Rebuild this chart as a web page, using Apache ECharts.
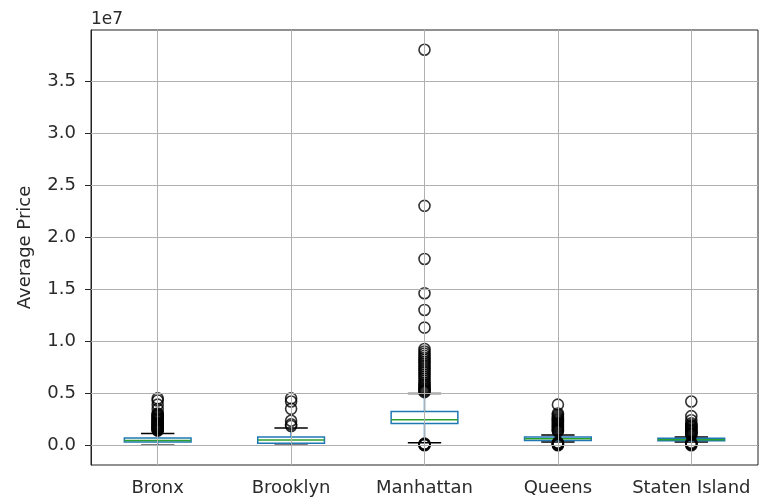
<!DOCTYPE html>
<html>
<head>
<meta charset="utf-8">
<script src="https://cdn.jsdelivr.net/npm/echarts@6/dist/echarts.min.js"></script>
<style>
html,body{margin:0;padding:0;background:#fff;}
#chart{width:760px;height:500px;}
</style>
</head>
<body>
<div id="chart"></div>
<script>
// ---- data (Average Price, dollars) ----
const categories = ['Bronx', 'Brooklyn', 'Manhattan', 'Queens', 'Staten Island'];
const whiskerLow  = [0,      0,      2.5e5,  3.0e5,  3.0e5];
const q1          = [3.0e5,  2.0e5,  2.08e6, 4.5e5,  4.2e5];
const median      = [4.5e5,  5.0e5,  2.46e6, 6.2e5,  5.3e5];
const q3          = [7.0e5,  8.0e5,  3.23e6, 8.0e5,  6.6e5];
const whiskerHigh = [1.12e6, 1.65e6, 4.98e6, 9.8e5,  8.0e5];

const bronxOutliers = [1.40e6,1.46e6,1.52e6,1.57e6,1.63e6,1.70e6,1.76e6,1.81e6,1.88e6,1.95e6,2.02e6,2.08e6,2.15e6,2.21e6,2.30e6,2.38e6,2.45e6,2.53e6,2.62e6,2.70e6,2.80e6,2.88e6,2.97e6,3.05e6,3.45e6,3.90e6,4.30e6,4.50e6];
const brooklynOutliers = [1.85e6,2.00e6,2.35e6,3.50e6,4.20e6,4.50e6];
const manhattanOutliers = [0,5e4,1.0e5,1.5e5,5.10e6,5.20e6,5.30e6,5.40e6,5.55e6,5.70e6,5.85e6,6.00e6,6.20e6,6.40e6,6.60e6,6.80e6,7.00e6,7.20e6,7.40e6,7.60e6,7.80e6,8.00e6,8.20e6,8.40e6,8.60e6,8.80e6,9.00e6,9.25e6,1.13e7,1.30e7,1.46e7,1.79e7,2.30e7,3.80e7];
const queensOutliers = [0,5e4,1.0e5,1.5e5,2.0e5,2.5e5,1.35e6,1.42e6,1.50e6,1.60e6,1.70e6,1.80e6,1.90e6,2.00e6,2.10e6,2.20e6,2.30e6,2.40e6,2.50e6,2.60e6,2.75e6,2.90e6,3.05e6,3.90e6];
const statenOutliers = [0,6e4,1.2e5,1.8e5,2.4e5,1.00e6,1.08e6,1.15e6,1.22e6,1.30e6,1.38e6,1.45e6,1.55e6,1.65e6,1.75e6,1.85e6,1.95e6,2.10e6,2.40e6,2.80e6,4.20e6];
const outlierGroups = [bronxOutliers, brooklynOutliers, manhattanOutliers, queensOutliers, statenOutliers];

const yTickValues = [0, 5e6, 1.0e7, 1.5e7, 2.0e7, 2.5e7, 3.0e7, 3.5e7];
const yTickLabels = ['0.0', '0.5', '1.0', '1.5', '2.0', '2.5', '3.0', '3.5'];
const yOffsetText = '1e7';
const yLabel = 'Average Price';

// ---- build ----
const boxData = categories.map((c, i) => [i, whiskerLow[i], q1[i], median[i], q3[i], whiskerHigh[i]]);
const outlierData = [];
outlierGroups.forEach((arr, i) => arr.forEach(v => outlierData.push([i, v])));

const FONT = 'DejaVu Sans';
const FS = 18;
const TXT = '#2a2a2a';
const BLUE = '#1f77b4', GREEN = '#2ca02c';

const chart = echarts.init(document.getElementById('chart'), null, {renderer: 'canvas'});
chart.setOption({
  animation: false,
  backgroundColor: '#fff',
  grid: {left: 91, right: 2, top: 30, bottom: 35, show: true, borderColor: '#222', borderWidth: 1, backgroundColor: 'transparent'},
  graphic: [{
    type: 'text', left: 91, top: 11,
    style: {text: yOffsetText, font: '17px "DejaVu Sans"', fill: TXT}
  }],
  xAxis: {
    type: 'category', data: categories, boundaryGap: true,
    axisLine: {show: true, lineStyle: {color: '#222', width: 1}},
    axisTick: {show: true, alignWithLabel: true, length: 6, lineStyle: {color: '#222'}},
    axisLabel: {color: TXT, fontFamily: FONT, fontSize: FS, margin: 14, interval: 0},
    splitLine: {show: false}
  },
  yAxis: {
    type: 'value', min: -1.9e6, max: 3.99e7,
    name: yLabel, nameLocation: 'middle', nameGap: 57, nameRotate: 90,
    nameTextStyle: {color: TXT, fontFamily: FONT, fontSize: FS},
    axisLine: {show: true, lineStyle: {color: '#222', width: 1}},
    axisTick: {show: true, length: 6, lineStyle: {color: '#222'}, customValues: yTickValues},
    axisLabel: {
      color: TXT, fontFamily: FONT, fontSize: FS, margin: 15,
      customValues: yTickValues,
      formatter: v => { const k = yTickValues.indexOf(v); return k >= 0 ? yTickLabels[k] : ''; }
    },
    splitLine: {show: false}
  },
  series: [
    {
      type: 'scatter', data: [], z: 1, silent: true,
      markLine: {
        silent: true, symbol: ['none', 'none'], animation: false,
        label: {show: false},
        lineStyle: {color: '#b0b0b0', width: 1, type: 'solid'},
        data: categories.map(c => ({xAxis: c})).concat(yTickValues.map(v => ({yAxis: v})))
      }
    },
    {
      type: 'custom', z: 2, silent: true,
      encode: {x: 0, y: [1, 2, 3, 4, 5]},
      data: boxData,
      renderItem: function (params, api) {
        const x = api.value(0);
        const band = api.size([1, 0])[0];
        const bw = band * 0.25, cw = band * 0.125;
        const pLow = api.coord([x, api.value(1)]);
        const pQ1 = api.coord([x, api.value(2)]);
        const pMed = api.coord([x, api.value(3)]);
        const pQ3 = api.coord([x, api.value(4)]);
        const pHigh = api.coord([x, api.value(5)]);
        const cx = pMed[0];
        const line = (x1, y1, x2, y2, color) => ({
          type: 'line', shape: {x1, y1, x2, y2},
          style: {stroke: color, lineWidth: 1.5, fill: null}
        });
        return {
          type: 'group',
          children: [
            line(cx, pQ1[1], cx, pLow[1], BLUE),
            line(cx, pQ3[1], cx, pHigh[1], BLUE),
            line(cx - cw, pLow[1], cx + cw, pLow[1], '#000'),
            line(cx - cw, pHigh[1], cx + cw, pHigh[1], '#000'),
            {type: 'rect', shape: {x: cx - bw, y: pQ3[1], width: bw * 2, height: pQ1[1] - pQ3[1]},
             style: {stroke: BLUE, lineWidth: 1.5, fill: null}},
            line(cx - bw, pMed[1], cx + bw, pMed[1], GREEN)
          ]
        };
      }
    },
    {
      type: 'scatter', z: 3, silent: true,
      data: outlierData,
      symbol: 'circle', symbolSize: 11,
      itemStyle: {color: 'rgba(0,0,0,0)', borderColor: '#000', borderWidth: 1.6}
    }
  ]
});
</script>
</body>
</html>
